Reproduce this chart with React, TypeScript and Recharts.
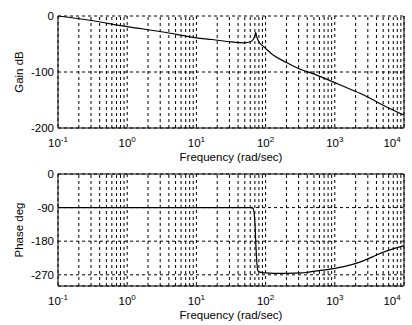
import { LineChart, Line, XAxis, YAxis, CartesianGrid, ReferenceLine } from "recharts";

// frequency points (rad/sec)
const freq = [
  0.1, 0.3, 1, 3.5, 10, 17, 30, 50, 60, 66, 70, 72, 74, 77, 80, 90, 100, 130,
  200, 330, 440, 1000, 1300, 2300, 3500, 4000, 10000,
];
const gainDb = [
  0, -8, -19, -29, -39, -42, -46, -48, -46, -42, -35, -29, -36, -42, -46, -53,
  -58, -70, -83, -96, -101, -119, -125, -138, -149, -153, -177,
];
const phaseDeg = [
  -90, -90, -90, -90, -90, -90, -90, -90, -90, -92, -130, -180, -225, -258,
  -262, -264, -265, -266, -266, -265, -262, -253, -249, -236, -222, -217, -192,
];

const decadeTicks = [0.1, 1, 10, 100, 1000, 10000];
const decadeExp = ["-1", "0", "1", "2", "3", "4"];
const minorGrid = [0.1, 1, 10, 100, 1000].flatMap((d) =>
  [2, 3, 4, 5, 6, 7, 8, 9].map((m) => +(d * m).toPrecision(3))
);
const gainTicks = [-200, -100, 0];
const phaseTicks = [-270, -180, -90, 0];

const data = freq.map((f, i) => ({ f, gain: gainDb[i], phase: phaseDeg[i] }));

const FONT = "'Liberation Sans', Arial, sans-serif";

function DecadeTick(props: any) {
  const { x, y, payload } = props;
  const i = decadeTicks.indexOf(payload.value);
  return (
    <text x={x} y={y + 11} textAnchor="middle" fontFamily={FONT} fontSize={11.5} fill="#000">
      10
      <tspan dy={-5} fontSize={8}>
        {decadeExp[i]}
      </tspan>
    </text>
  );
}

function ValueTick(props: any) {
  const { y, payload } = props;
  return (
    <text x={54} y={y + 4} textAnchor="end" fontFamily={FONT} fontSize={11.5} fill="#000">
      {payload.value}
    </text>
  );
}

function xLabel(props: any) {
  const vb = props.viewBox;
  return (
    <text x={vb.x + vb.width / 2} y={vb.y + 33} textAnchor="middle" fontFamily={FONT} fontSize={11.5} fill="#000">
      Frequency (rad/sec)
    </text>
  );
}

function yLabel(text: string) {
  return (props: any) => {
    const vb = props.viewBox;
    const cy = vb.y + vb.height / 2;
    return (
      <text x={19} y={cy} transform={`rotate(-90 19 ${cy})`} textAnchor="middle" dominantBaseline="central" fontFamily={FONT} fontSize={11.5} fill="#000">
        {text}
      </text>
    );
  };
}

function BodePanel({
  dataKey,
  domain,
  ticks,
  label,
  height,
  dashedTop,
}: {
  dataKey: string;
  domain: [number, number];
  ticks: number[];
  label: string;
  height: number;
  dashedTop: boolean;
}) {
  return (
    <LineChart width={412} height={height} data={data} margin={{ top: 16, right: 8, bottom: 0, left: 0 }}>
      <CartesianGrid stroke="#000" strokeDasharray="3 3" horizontal={true} vertical={true} />
      {minorGrid.map((v) => (
        <ReferenceLine key={v} x={v} stroke="#000" strokeDasharray="3 3" />
      ))}
      <XAxis
        dataKey="f"
        type="number"
        scale="log"
        domain={[0.1, 10000]}
        ticks={decadeTicks}
        allowDataOverflow
        height={height - 16 - 112}
        axisLine={{ stroke: "#000" }}
        tickLine={false}
        tick={<DecadeTick />}
        label={{ content: xLabel }}
      />
      <YAxis
        type="number"
        domain={domain}
        ticks={ticks}
        width={58}
        axisLine={{ stroke: "#000" }}
        tickLine={false}
        tick={<ValueTick />}
        label={{ content: yLabel(label) }}
      />
      <ReferenceLine x={10000} stroke="#000" />
      {!dashedTop && <ReferenceLine y={0} stroke="#000" />}
      <Line
        dataKey={dataKey}
        type="monotone"
        stroke="#000"
        strokeWidth={1.2}
        dot={false}
        isAnimationActive={false}
      />
    </LineChart>
  );
}

export default function App() {
  return (
    <div style={{ position: "absolute", left: 0, top: 0, width: 412, height: 325, background: "#fff" }}>
      <div style={{ position: "absolute", left: 0, top: 0 }}>
        <BodePanel dataKey="gain" domain={[-200, 0]} ticks={gainTicks} label="Gain dB" height={168} dashedTop />
      </div>
      <div style={{ position: "absolute", left: 0, top: 158 }}>
        <BodePanel dataKey="phase" domain={[-300, 0]} ticks={phaseTicks} label="Phase deg" height={167} dashedTop={false} />
      </div>
    </div>
  );
}
